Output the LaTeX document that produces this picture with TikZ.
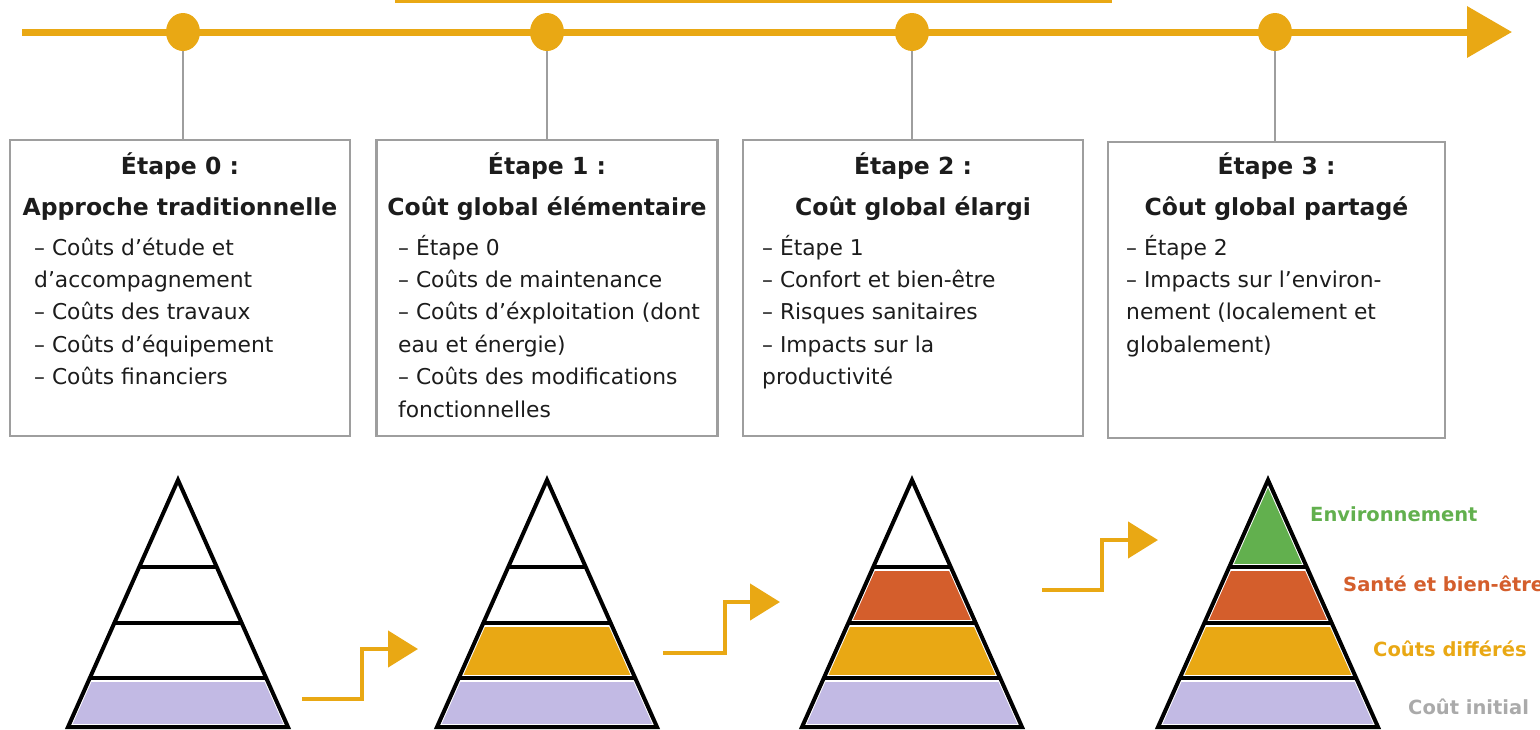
\documentclass[tikz,border=0pt]{standalone}
\usepackage{fontspec}
\setmainfont{DejaVu Sans}
\usetikzlibrary{arrows.meta}
\definecolor{gold}{RGB}{233,168,20}
\definecolor{lav}{RGB}{194,186,228}
\definecolor{rust}{RGB}{212,94,44}
\definecolor{leaf}{RGB}{98,176,78}
\definecolor{framegrey}{RGB}{158,158,158}
\definecolor{ink}{RGB}{28,28,28}
\definecolor{lightgreytxt}{RGB}{170,170,170}
\tikzset{
 dot/.style={ellipse, fill=gold, minimum width=34pt, minimum height=38pt, inner sep=0pt},
 timeline/.style={draw=gold, line width=7pt, -{Triangle[length=45pt,width=50pt]}},
 stagebox/.style={draw=framegrey, line width=2.2pt, minimum width=340pt, minimum height=296pt, inner sep=0pt},
 conn/.style={draw=framegrey, line width=2pt},
 ttl/.style={font=\bfseries\fontsize{23.5}{28}\selectfont, text=ink, inner sep=0pt, anchor=base},
 body/.style={font=\fontsize{21.8}{26}\selectfont, text=ink, inner sep=0pt, anchor=base west},
 zig/.style={draw=gold, line width=4.5pt, -{Triangle[length=30pt,width=36pt]}},
 lbl/.style={font=\bfseries\fontsize{19.5}{23}\selectfont, inner sep=0pt, anchor=base west},
 pyedge/.style={draw=black, line width=4pt, line join=miter},
}
\usetikzlibrary{shapes.geometric}
\newcommand\pyr[5]{%
 \begin{scope}[shift={(#1,0)}]
  \fill[#2] (0,480) -- (-38.7,567) -- (38.7,567) -- cycle;
  \fill[#3] (-38.7,567) -- (38.7,567) -- (63.7,623) -- (-63.7,623) -- cycle;
  \fill[#4] (-63.7,623) -- (63.7,623) -- (88.2,678) -- (-88.2,678) -- cycle;
  \fill[#5] (-88.2,678) -- (88.2,678) -- (110,727) -- (-110,727) -- cycle;
  \begin{scope}
   \clip (0,480) -- (-110,727) -- (110,727) -- cycle;
   \draw[white, line width=6pt] (0,480) -- (-110,727) -- (110,727) -- cycle;
   \foreach \yy in {567,623,678} {
     \draw[white, line width=7pt] (-120,\yy) -- (120,\yy);
     \draw[black, line width=4pt] (-120,\yy) -- (120,\yy);
   }
  \end{scope}
  \draw[pyedge] (0,480) -- (-110,727) -- (110,727) -- cycle;
 \end{scope}}
\newcommand\bodylines[3]{%
 \foreach \t [count=\i] in {#3} {
   \node[body] (#1l\i) at (#2, {255+(\i-1)*32.4}) {\t};
 }}
\begin{document}
\begin{tikzpicture}[x=1pt, y=-1pt]
\useasboundingbox (0,0) rectangle (1540,729);

% cropped bar at the very top
\draw[gold, line width=3pt] (395,1.5) -- (1112,1.5);

% timeline
\coordinate (tstart) at (22,32);
\coordinate (tend) at (1512,32);
\draw[timeline] (tstart) -- (tend);
\node[dot] (d0) at (183,32) {};
\node[dot] (d1) at (547,32) {};
\node[dot] (d2) at (912,32) {};
\node[dot] (d3) at (1275,32) {};

% boxes
\node[stagebox] (b0) at (180,288) {};
\node[stagebox, minimum width=341pt] (b1) at (547,288) {};
\node[stagebox] (b2) at (913,288) {};
\node[stagebox, minimum width=337pt] (b3) at (1276.5,290) {};

\foreach \k in {0,1,2,3} {
  \draw[conn] (d\k.south) -- (d\k.south |- b\k.north);
}

% titles
\node[ttl] (b0t) at (180,174) {Étape 0 :};
\node[ttl] (b0s) at (180,215) {Approche traditionnelle};
\node[ttl] (b1t) at (547,174) {Étape 1 :};
\node[ttl] (b1s) at (547,215) {Coût global élémentaire};
\node[ttl] (b2t) at (913,174) {Étape 2 :};
\node[ttl] (b2s) at (913,215) {Coût global élargi};
\node[ttl] (b3t) at (1276.5,174) {Étape 3 :};
\node[ttl] (b3s) at (1276.5,215) {Côut global partagé};

% body texts
\bodylines{b0}{34}{– Coûts d'étude et, d'accompagnement, – Coûts des travaux, – Coûts d'équipement, – Coûts financiers}
\bodylines{b1}{398}{– Étape 0, – Coûts de maintenance, – Coûts d'éxploitation (dont, eau et énergie), – Coûts des modifications, fonctionnelles}
\bodylines{b2}{762}{– Étape 1, – Confort et bien-être, – Risques sanitaires, – Impacts sur la, productivité}
\bodylines{b3}{1126}{– Étape 2, – Impacts sur l'environ-, nement (localement et, globalement)}

% pyramids
\pyr{178}{white}{white}{white}{lav}
\pyr{547}{white}{white}{gold}{lav}
\pyr{912}{white}{rust}{gold}{lav}
\pyr{1268}{leaf}{rust}{gold}{lav}

% step arrows
\coordinate (a1s) at (302,699); \coordinate (a1k) at (362,649); \coordinate (a1e) at (418,649);
\coordinate (a2s) at (663,653); \coordinate (a2k) at (725,602); \coordinate (a2e) at (780,602);
\coordinate (a3s) at (1042,590); \coordinate (a3k) at (1102,540); \coordinate (a3e) at (1158,540);
\draw[zig] (a1s) -| (a1k) -- (a1e);
\draw[zig] (a2s) -| (a2k) -- (a2e);
\draw[zig] (a3s) -| (a3k) -- (a3e);

% legend labels
\node[lbl, text=leaf] (lenv) at (1310,521) {Environnement};
\node[lbl, text=rust] (lsan) at (1343,591) {Santé et bien-être};
\node[lbl, text=gold] (ldif) at (1373,656) {Coûts différés};
\node[lbl, text=lightgreytxt] (lini) at (1408,714) {Coût initial};
\end{tikzpicture}
\end{document}
